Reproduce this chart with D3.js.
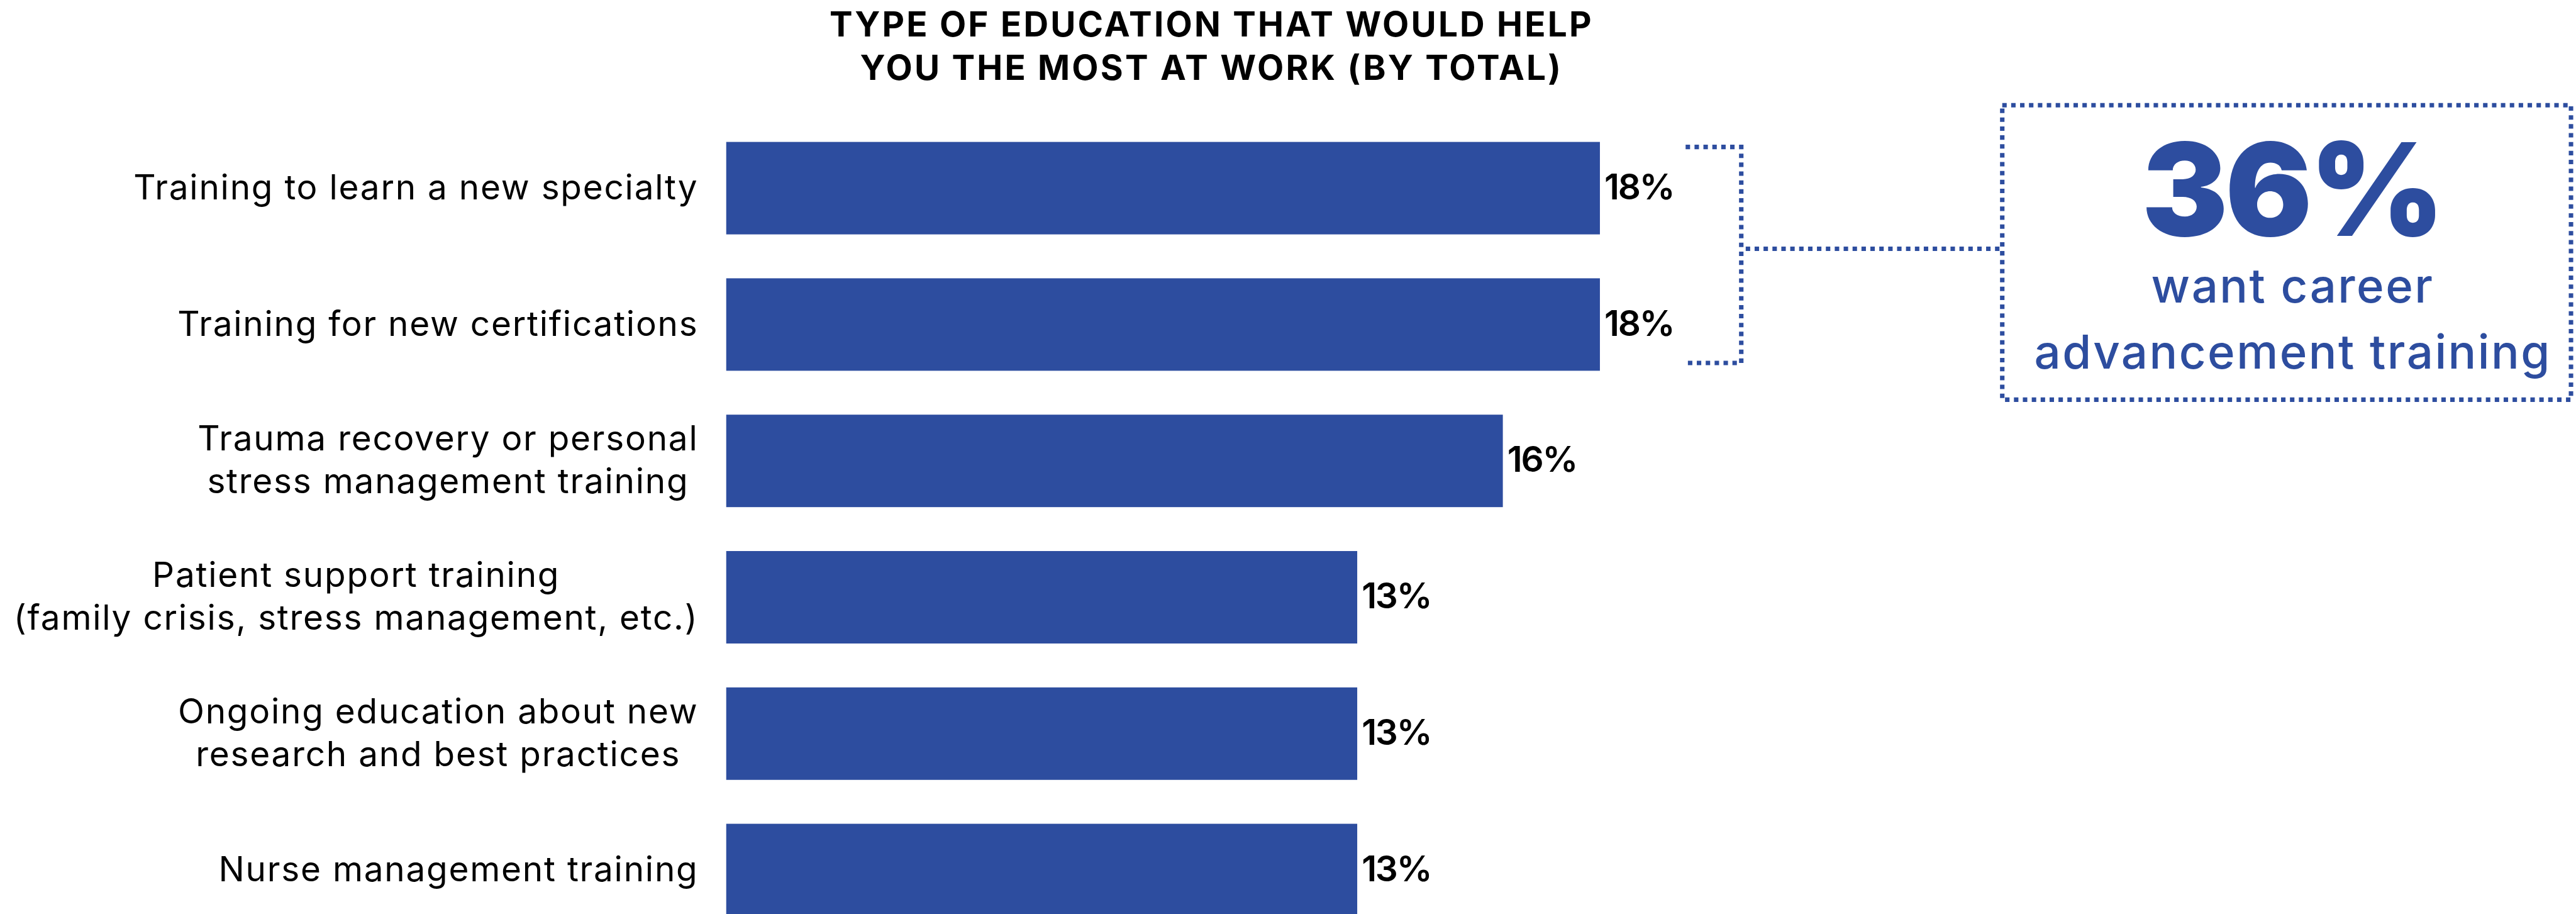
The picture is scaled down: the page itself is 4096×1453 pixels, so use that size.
<!DOCTYPE html>
<html>
<head>
<meta charset="utf-8">
<script src="https://cdn.jsdelivr.net/npm/d3@7"></script>
<style>
  html, body { margin: 0; padding: 0; background: #ffffff; }
  svg { display: block; }
</style>
</head>
<body>
<svg id="chart"></svg>
<script>
// ---- data ----
const titleLines = ["TYPE OF EDUCATION THAT WOULD HELP", "YOU THE MOST AT WORK (BY TOTAL)"];
const categories = [
  ["Training to learn a new specialty"],
  ["Training for new certifications"],
  ["Trauma recovery or personal", "stress management training"],
  ["Patient support training", "(family crisis, stress management, etc.)"],
  ["Ongoing education about new", "research and best practices"],
  ["Nurse management training"]
];
const values = [18, 18, 16, 13, 13, 13];
const groupedIdx = [0, 1];               // bars gathered by the bracket
const calloutLines = ["want career", "advancement training"];

// ---- canvas (drawn in a 4629 x 1642 design space, scaled to the window) ----
const W = 4629, H = 1642;
const BLUE = "#2d4d9f";
const svg = d3.select("#chart")
  .attr("width", 4096).attr("height", 1453)
  .attr("viewBox", `0 0 ${W} ${H}`)
  .attr("preserveAspectRatio", "xMidYMid meet");

const x = d3.scaleLinear().domain([0, 18]).range([1305, 2875]);
const y = d3.scaleBand()
  .domain(d3.range(categories.length))
  .range([215.5, 215.5 + 245 * categories.length])
  .paddingInner(0.322).paddingOuter(0.161);
const cy = i => y(i) + y.bandwidth() / 2;

const fontLabel = "Inter, 'Open Sans', sans-serif";

// ---- title ----
svg.append("g").selectAll("text").data(titleLines).join("text")
  .attr("x", 2177).attr("y", (d, i) => 65 + i * 78)
  .attr("text-anchor", "middle")
  .attr("font-family", fontLabel).attr("font-weight", 700)
  .attr("font-size", 62).attr("letter-spacing", 3.6).attr("fill", "#000")
  .text(d => d);

// ---- bars ----
svg.append("g").selectAll("rect").data(values).join("rect")
  .attr("x", x(0)).attr("y", (d, i) => y(i))
  .attr("width", d => x(d) - x(0)).attr("height", y.bandwidth())
  .attr("fill", BLUE);

// ---- value labels ----
svg.append("g").selectAll("text").data(values).join("text")
  .attr("x", d => x(d) + 8).attr("y", (d, i) => cy(i) + 20)
  .attr("font-family", fontLabel).attr("font-weight", 600)
  .attr("font-size", 64).attr("letter-spacing", -2.5).attr("fill", "#000")
  .text(d => d + "%");

// ---- category labels: centred blocks whose widest line ends at the axis gap ----
const labelRight = 1255, lineGap = 77;
const lab = svg.append("g");
categories.forEach((lines, i) => {
  const g = lab.append("g");
  const texts = g.selectAll("text").data(lines).join("text")
    .attr("y", (d, k) => cy(i) + 20 - (lines.length - 1) * lineGap / 2 + k * lineGap)
    .attr("text-anchor", "middle")
    .attr("font-family", fontLabel).attr("font-weight", 400)
    .attr("font-size", 62).attr("letter-spacing", 2).attr("fill", "#000")
    .text(d => d);
  const maxW = d3.max(texts.nodes(), n => n.getComputedTextLength());
  texts.attr("x", labelRight - maxW / 2);
});

// ---- bracket joining the two top bars to the callout ----
const dotted = sel => sel.attr("fill", "none").attr("stroke", BLUE)
  .attr("stroke-width", 8).attr("stroke-dasharray", "8 8");
const bTop = y(groupedIdx[0]) + 9, bBot = y(groupedIdx[1]) + y.bandwidth() - 14;
const bx = 3129, bLeft = 3029, bMid = 447;
svg.append("path").call(dotted)
  .attr("d", `M${bLeft},${bTop}H${bx}V${bBot}H${bLeft}`);
svg.append("path").call(dotted)
  .attr("d", `M${bx + 8},${bMid}H${3594}`);

// ---- callout box ----
const box = { x0: 3598, y0: 189, x1: 4620, y1: 718 };
svg.append("rect").call(dotted)
  .attr("x", box.x0).attr("y", box.y0)
  .attr("width", box.x1 - box.x0).attr("height", box.y1 - box.y0);

const total = d3.sum(groupedIdx, i => values[i]);
svg.append("text")
  .attr("x", 4118).attr("y", 424).attr("text-anchor", "middle")
  .attr("font-family", fontLabel).attr("font-weight", 900)
  .attr("font-size", 232).attr("fill", BLUE)
  .attr("letter-spacing", -5)
  .text(total + "%");
svg.append("g").selectAll("text").data(calloutLines).join("text")
  .attr("x", 4120).attr("y", (d, i) => 543 + i * 119.5)
  .attr("text-anchor", "middle")
  .attr("font-family", fontLabel).attr("font-weight", 500)
  .attr("font-size", 84).attr("letter-spacing", 2.8).attr("fill", BLUE)
  .text(d => d);
</script>
</body>
</html>
